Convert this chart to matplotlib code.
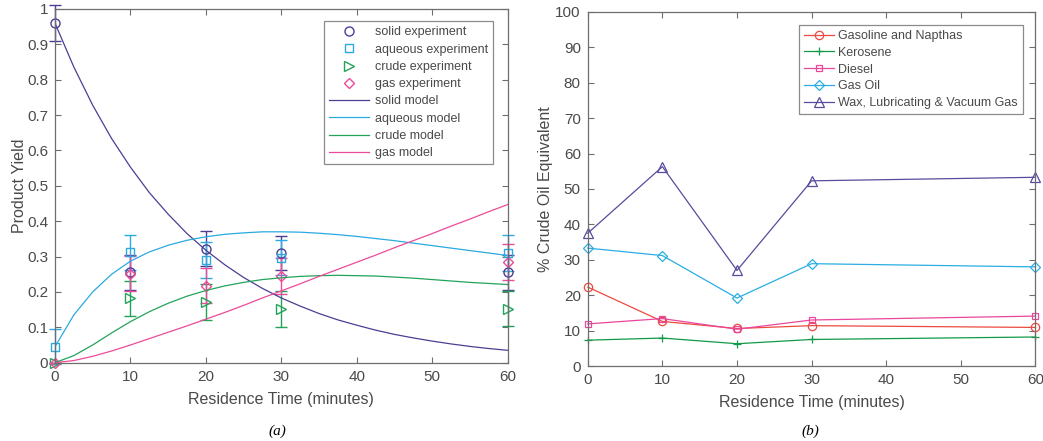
import matplotlib
matplotlib.use("Agg")
import matplotlib.pyplot as plt

# ---- (a) experimental points ----
t_exp = [0, 10, 20, 30, 60]
solid_exp = [0.96, 0.255, 0.322, 0.310, 0.255]
aqueous_exp = [0.045, 0.312, 0.290, 0.297, 0.310]
crude_exp = [0.0, 0.182, 0.172, 0.152, 0.153]
gas_exp = [0.0, 0.252, 0.218, 0.245, 0.285]
solid_err = [0.05, 0.05, 0.05, 0.048, 0.05]
aqueous_err = [0.05, 0.05, 0.05, 0.05, 0.05]
crude_err = [0.0, 0.05, 0.05, 0.05, 0.05]
gas_err = [0.0, 0.05, 0.05, 0.05, 0.05]

# ---- (a) model curves, every 2.5 min ----
t_model = [0, 2.5, 5, 7.5, 10, 12.5, 15, 17.5, 20, 22.5, 25, 27.5, 30,
           32.5, 35, 37.5, 40, 42.5, 45, 47.5, 50, 52.5, 55, 57.5, 60]
solid_model = [0.960, 0.836, 0.728, 0.634, 0.553, 0.481, 0.420, 0.365, 0.318,
               0.277, 0.241, 0.210, 0.183, 0.160, 0.139, 0.121, 0.106, 0.092,
               0.080, 0.070, 0.061, 0.053, 0.046, 0.040, 0.035]
aqueous_model = [0.045, 0.135, 0.200, 0.250, 0.287, 0.313, 0.332, 0.346, 0.356,
                 0.363, 0.367, 0.370, 0.370, 0.369, 0.366, 0.362, 0.357, 0.351,
                 0.345, 0.338, 0.331, 0.324, 0.317, 0.310, 0.303]
crude_model = [0.000, 0.020, 0.050, 0.084, 0.116, 0.144, 0.168, 0.188, 0.204,
               0.217, 0.227, 0.235, 0.240, 0.244, 0.246, 0.247, 0.246, 0.245,
               0.242, 0.239, 0.235, 0.231, 0.227, 0.224, 0.221]
gas_model = [0.000, 0.006, 0.018, 0.033, 0.050, 0.068, 0.086, 0.104, 0.123,
             0.142, 0.162, 0.183, 0.203, 0.223, 0.244, 0.264, 0.284, 0.304,
             0.325, 0.345, 0.365, 0.386, 0.406, 0.427, 0.447]

# ---- (b) fractions ----
t_frac = [0, 10, 20, 30, 60]
gasoline = [22.3, 12.6, 10.6, 11.4, 10.9]
kerosene = [7.3, 7.9, 6.3, 7.5, 8.2]
diesel = [11.9, 13.4, 10.4, 13.0, 14.1]
gas_oil = [33.3, 31.2, 19.2, 28.9, 28.0]
wax = [37.5, 56.3, 27.0, 52.3, 53.3]

C_SOLID = "#4b3e94"
C_AQ = "#2aaae0"
C_CRUDE = "#22a35a"
C_GAS = "#ec4b99"
C_RED = "#ec4a3f"
C_GREEN = "#139a48"
C_PINK = "#e8479c"
C_CYAN = "#2aaee3"
C_WAX = "#5a4a9d"
GRAY = "#4a4a4a"
SPINE = "#6e6e6e"

plt.rcParams["font.family"] = ["Liberation Sans", "DejaVu Sans"]
plt.rcParams["font.size"] = 9.5

fig = plt.figure(figsize=(10.43, 4.41), dpi=100)
fig.patch.set_facecolor("white")
ax1 = fig.add_axes([0.0527, 0.1776, 0.434, 0.802])
ax2 = fig.add_axes([0.5635, 0.170, 0.4293, 0.803])


def style_axes(ax):
    for s in ax.spines.values():
        s.set_color(SPINE)
        s.set_linewidth(0.9)
    ax.tick_params(direction="in", top=True, right=True, colors=SPINE,
                   labelcolor=GRAY, length=4, width=0.8, labelsize=11, pad=5)


# (a)
series = [
    (solid_exp, solid_err, "o", C_SOLID, "solid experiment"),
    (aqueous_exp, aqueous_err, "s", C_AQ, "aqueous experiment"),
    (crude_exp, crude_err, ">", C_CRUDE, "crude experiment"),
    (gas_exp, gas_err, "D", C_GAS, "gas experiment"),
]
for y, e, m, c, lab in series:
    ax1.errorbar(t_exp, y, yerr=e, fmt="none", ecolor=c, elinewidth=1,
                 capsize=4, capthick=1, clip_on=False)
for y, e, m, c, lab in series:
    ms = 6.5
    if m in ("s", "D"):
        ms = 5.5
    ax1.plot(t_exp, y, linestyle="none", marker=m, markersize=ms,
             markerfacecolor="none", markeredgecolor=c, markeredgewidth=1,
             label=lab, clip_on=False)
ax1.plot(t_model, solid_model, color=C_SOLID, lw=0.9, label="solid model")
ax1.plot(t_model, aqueous_model, color=C_AQ, lw=0.9, label="aqueous model")
ax1.plot(t_model, crude_model, color=C_CRUDE, lw=0.9, label="crude model")
ax1.plot(t_model, gas_model, color=C_GAS, lw=0.9, label="gas model")

ax1.set_xlim(0, 60)
ax1.set_ylim(0, 1)
ax1.set_xticks([0, 10, 20, 30, 40, 50, 60])
ax1.set_yticks([0, 0.1, 0.2, 0.3, 0.4, 0.5, 0.6, 0.7, 0.8, 0.9, 1])
ax1.set_yticklabels(["0", "0.1", "0.2", "0.3", "0.4", "0.5", "0.6", "0.7",
                     "0.8", "0.9", "1"])
style_axes(ax1)
ax1.set_xlabel("Residence Time (minutes)", color=GRAY, fontsize=11.5,
               labelpad=6)
ax1.set_ylabel("Product Yield", color=GRAY, fontsize=11.5, labelpad=0)
leg1 = ax1.legend(loc="upper right", bbox_to_anchor=(0.968, 0.965),
                  fontsize=9, frameon=True, fancybox=False,
                  handlelength=3.2, handletextpad=0.5, labelspacing=0.42,
                  borderpad=0.4, borderaxespad=0)
leg1.get_frame().set_edgecolor(SPINE)
leg1.get_frame().set_linewidth(0.9)
for t in leg1.get_texts():
    t.set_color(GRAY)

# (b)
frac = [
    (gasoline, "o", C_RED, "Gasoline and Napthas", 6),
    (kerosene, "+", C_GREEN, "Kerosene", 6),
    (diesel, "s", C_PINK, "Diesel", 5),
    (gas_oil, "D", C_CYAN, "Gas Oil", 5),
    (wax, "^", C_WAX, "Wax, Lubricating & Vacuum Gas", 6.5),
]
for y, m, c, lab, ms in frac:
    ax2.plot(t_frac, y, color=c, lw=0.9, marker=m, markersize=ms,
             markerfacecolor="none", markeredgecolor=c, markeredgewidth=0.9,
             label=lab, clip_on=False)
ax2.set_xlim(0, 60)
ax2.set_ylim(0, 100)
ax2.set_xticks([0, 10, 20, 30, 40, 50, 60])
ax2.set_yticks([0, 10, 20, 30, 40, 50, 60, 70, 80, 90, 100])
style_axes(ax2)
ax2.set_xlabel("Residence Time (minutes)", color=GRAY, fontsize=11.5,
               labelpad=6)
ax2.set_ylabel("% Crude Oil Equivalent", color=GRAY, fontsize=11.5,
               labelpad=2)
leg2 = ax2.legend(loc="upper right", bbox_to_anchor=(0.972, 0.963),
                  fontsize=9, frameon=True, fancybox=False,
                  handlelength=2.4, handletextpad=0.35, labelspacing=0.38,
                  borderpad=0.4, borderaxespad=0)
leg2.get_frame().set_edgecolor(SPINE)
leg2.get_frame().set_linewidth(0.9)
for t in leg2.get_texts():
    t.set_color(GRAY)

fig.text(0.266, 0.014, "(a)", fontsize=11, style="italic",
         family=["Liberation Serif", "DejaVu Serif"], ha="center")
fig.text(0.777, 0.014, "(b)", fontsize=11, style="italic",
         family=["Liberation Serif", "DejaVu Serif"], ha="center")

fig.savefig("out.png", dpi=100, facecolor="white")
